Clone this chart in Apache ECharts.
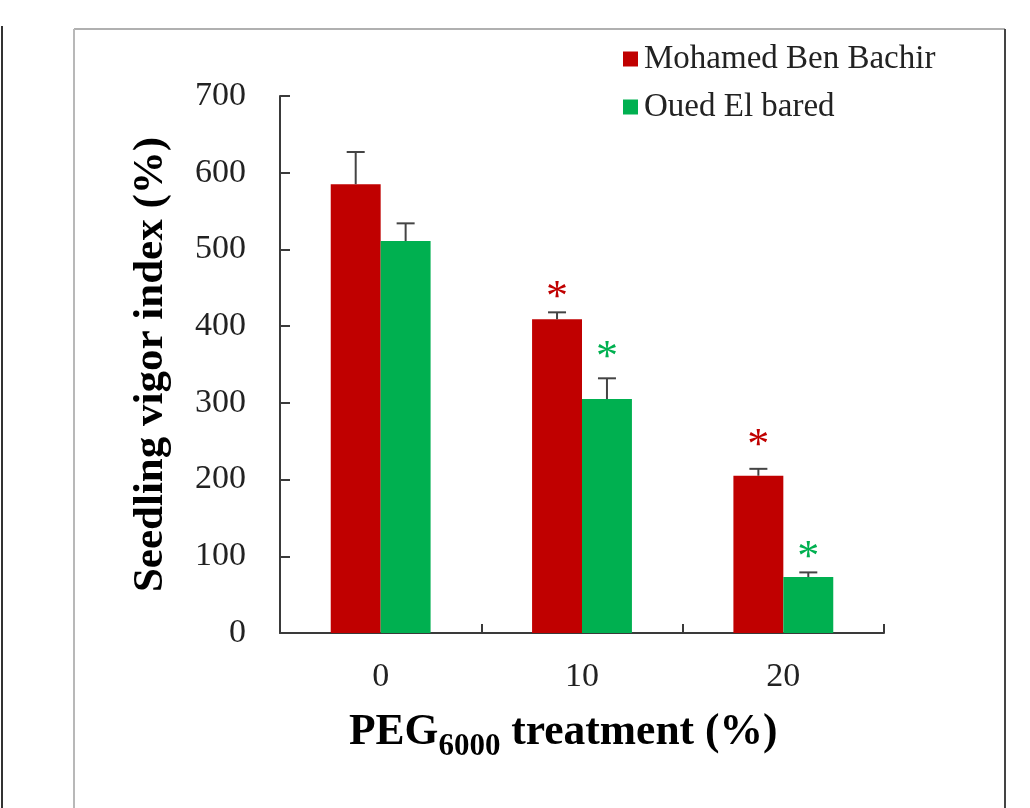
<!DOCTYPE html>
<html>
<head>
<meta charset="utf-8">
<script src="https://cdn.jsdelivr.net/npm/echarts@6/dist/echarts.min.js"></script>
<style>
html,body{margin:0;padding:0;background:#fff;}
#chart{width:1030px;height:808px;}
</style>
</head>
<body>
<div id="chart"></div>
<script>
// ---- data ----
const categories = ['0', '10', '20'];
const seriesNames = ['Mohamed Ben Bachir', 'Oued El bared'];
const mbbValues = [585, 409, 205];
const mbbErrors = [42, 9, 9];
const mbbStars = [null, 446, 254];
const oebValues = [511, 305, 73];
const oebErrors = [23, 27, 6];
const oebStars = [null, 368, 108];
const yTicks = [0, 100, 200, 300, 400, 500, 600, 700];

// ---- style ----
const RED = '#C00000';
const GREEN = '#00B050';
const FONT = 'Liberation Serif';
const AXIS = '#3a3a3a';

const chart = echarts.init(document.getElementById('chart'), null, {renderer: 'canvas'});

function errSeries(values, errors, stars, side, color) {
  return {
    type: 'custom',
    z: 5,
    clip: false,
    silent: true,
    data: values.map((v, i) => [i, v]),
    encode: {x: 0, y: 1},
    renderItem: function (params, api) {
      const i = params.dataIndex;
      const band = api.size([1, 0])[0];
      const off = band * 0.124 * side;
      const pBase = api.coord([i, values[i]]);
      const pTop = api.coord([i, values[i] + errors[i]]);
      const x = pBase[0] + off;
      const children = [
        {type: 'line', shape: {x1: x, y1: pBase[1], x2: x, y2: pTop[1]},
          style: {stroke: '#444', lineWidth: 2}},
        {type: 'line', shape: {x1: x - 9, y1: pTop[1], x2: x + 9, y2: pTop[1]},
          style: {stroke: '#444', lineWidth: 2}}
      ];
      if (stars[i] != null) {
        const pS = api.coord([i, stars[i]]);
        children.push({type: 'text', x: x, y: pS[1] + 8,
          style: {text: '*', fill: color, font: '44px "' + FONT + '"',
            align: 'center', verticalAlign: 'middle'}});
      }
      return {type: 'group', children: children};
    }
  };
}

const option = {
  backgroundColor: '#fff',
  animation: false,
  title: {
    text: '{a|PEG}{b|6000}{a| treatment (%)}',
    left: 344,
    top: 699,
    textStyle: {
      rich: {
        a: {fontFamily: FONT, fontWeight: 'bold', fontSize: 43.5, color: '#000', lineHeight: 58, verticalAlign: 'middle'},
        b: {fontFamily: FONT, fontWeight: 'bold', fontSize: 31, color: '#000', lineHeight: 31, verticalAlign: 'bottom'}
      }
    }
  },
  legend: {
    orient: 'vertical',
    left: 618,
    top: 37,
    icon: 'rect',
    itemWidth: 15,
    itemHeight: 15,
    itemGap: 14,
    data: seriesNames,
    textStyle: {fontFamily: FONT, fontSize: 33, color: '#222', lineHeight: 34, padding: [0, 0, 0, 1]}
  },
  grid: {left: 280, right: 146, top: 96, bottom: 175, containLabel: false},
  xAxis: {
    type: 'category',
    data: categories,
    axisLine: {lineStyle: {color: AXIS, width: 2}},
    axisTick: {show: true, inside: true, length: 9, alignWithLabel: false, lineStyle: {color: AXIS, width: 2}},
    axisLabel: {fontFamily: FONT, fontSize: 34, color: '#222', margin: 27},
    splitLine: {show: false}
  },
  yAxis: {
    type: 'value',
    min: yTicks[0],
    max: yTicks[yTicks.length - 1],
    interval: 100,
    name: 'Seedling vigor index (%)',
    nameLocation: 'middle',
    nameRotate: 90,
    nameGap: 108,
    nameTextStyle: {fontFamily: FONT, fontWeight: 'bold', fontSize: 43, color: '#000'},
    axisLine: {show: true, lineStyle: {color: AXIS, width: 2}},
    axisTick: {show: true, inside: true, length: 10, lineStyle: {color: AXIS, width: 2}},
    axisLabel: {fontFamily: FONT, fontSize: 34, color: '#222', margin: 34},
    splitLine: {show: false}
  },
  graphic: [
    {type: 'line', shape: {x1: 2, y1: 26, x2: 2, y2: 808}, style: {stroke: '#333', lineWidth: 2}},
    {type: 'line', shape: {x1: 74, y1: 29, x2: 1005, y2: 29}, style: {stroke: '#b0b0b0', lineWidth: 2}},
    {type: 'line', shape: {x1: 74, y1: 29, x2: 74, y2: 808}, style: {stroke: '#b8b8b8', lineWidth: 2}},
    {type: 'line', shape: {x1: 1005, y1: 29, x2: 1005, y2: 808}, style: {stroke: '#444', lineWidth: 2}}
  ],
  series: [
    {name: seriesNames[0], type: 'bar', data: mbbValues, barWidth: '24.8%', barGap: '0%',
      itemStyle: {color: RED}},
    {name: seriesNames[1], type: 'bar', data: oebValues, barWidth: '24.8%', barGap: '0%',
      itemStyle: {color: GREEN}},
    errSeries(mbbValues, mbbErrors, mbbStars, -1, RED),
    errSeries(oebValues, oebErrors, oebStars, 1, GREEN)
  ]
};
chart.setOption(option);
</script>
</body>
</html>
